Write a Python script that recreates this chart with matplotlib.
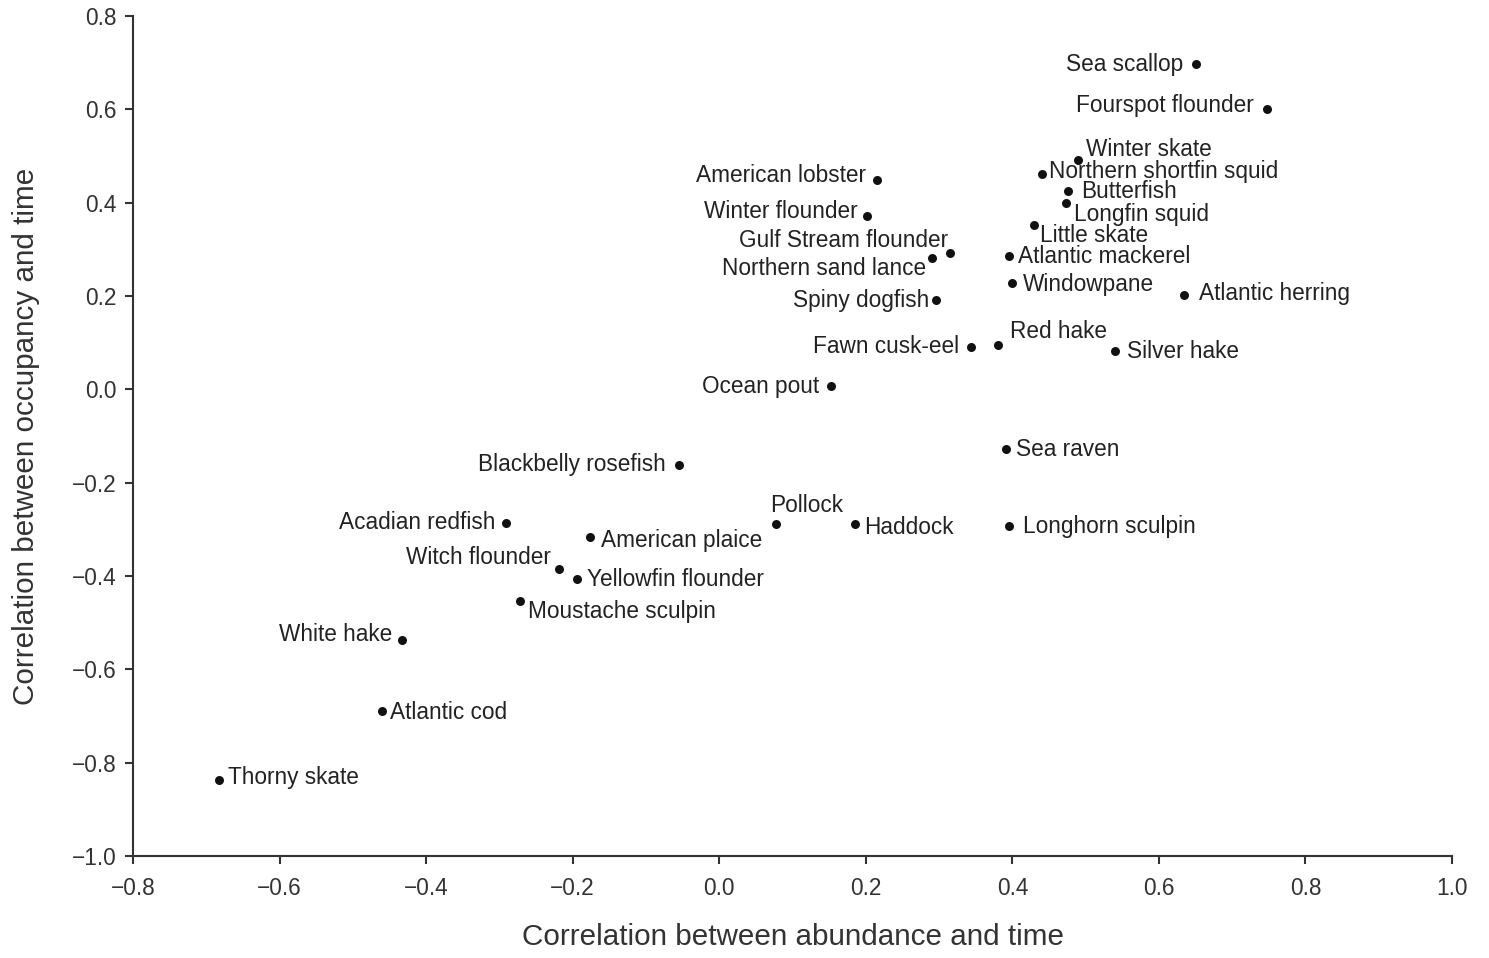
import matplotlib
matplotlib.use("Agg")
import matplotlib.pyplot as plt

species = ["Sea scallop", "Fourspot flounder", "Winter skate", "Northern shortfin squid",
           "Butterfish", "Longfin squid", "Little skate", "Atlantic mackerel", "Windowpane",
           "Atlantic herring", "Red hake", "Silver hake", "Fawn cusk-eel", "American lobster",
           "Winter flounder", "Gulf Stream flounder", "Northern sand lance", "Spiny dogfish",
           "Ocean pout", "Sea raven", "Blackbelly rosefish", "Pollock", "Haddock",
           "Longhorn sculpin", "Acadian redfish", "American plaice", "Witch flounder",
           "Yellowfin flounder", "Moustache sculpin", "White hake", "Atlantic cod", "Thorny skate"]
abund_corr = [0.650, 0.747, 0.489, 0.441, 0.476, 0.473, 0.430, 0.395, 0.400, 0.634,
              0.381, 0.540, 0.343, 0.215, 0.201, 0.315, 0.290, 0.296, 0.152, 0.392,
              -0.055, 0.077, 0.185, 0.395, -0.291, -0.177, -0.219, -0.194, -0.272,
              -0.433, -0.460, -0.682]
occup_corr = [0.697, 0.601, 0.491, 0.461, 0.425, 0.399, 0.352, 0.286, 0.228, 0.202,
              0.095, 0.082, 0.091, 0.448, 0.371, 0.292, 0.281, 0.191, 0.007, -0.128,
              -0.162, -0.289, -0.289, -0.293, -0.287, -0.316, -0.385, -0.406, -0.454,
              -0.537, -0.690, -0.837]
x_ticks = [-0.8, -0.6, -0.4, -0.2, 0.0, 0.2, 0.4, 0.6, 0.8, 1.0]
y_ticks = [-1.0, -0.8, -0.6, -0.4, -0.2, 0.0, 0.2, 0.4, 0.6, 0.8]

# label placement: (dx px, dy px up, horizontal alignment)
placement = {
    "Sea scallop": (-12, 0, "right"), "Fourspot flounder": (-13, 3, "right"),
    "Winter skate": (8, 11, "left"), "Northern shortfin squid": (7, 3, "left"),
    "Butterfish": (13, -1, "left"), "Longfin squid": (8, -11, "left"),
    "Little skate": (6, -10, "left"), "Atlantic mackerel": (9, -1, "left"),
    "Windowpane": (11, -2, "left"), "Atlantic herring": (15, 2, "left"),
    "Red hake": (12, 13, "left"), "Silver hake": (12, 0, "left"),
    "Fawn cusk-eel": (-11, 0, "right"), "American lobster": (-11, 5, "right"),
    "Winter flounder": (-9, 5, "right"), "Gulf Stream flounder": (-2, 13, "right"),
    "Northern sand lance": (-6, -10, "right"), "Spiny dogfish": (-7, 0, "right"),
    "Ocean pout": (-11, 0, "right"), "Sea raven": (10, 0, "left"),
    "Blackbelly rosefish": (-13, 0, "right"), "Pollock": (-6, 19, "left"),
    "Haddock": (9, -3, "left"), "Longhorn sculpin": (14, 0, "left"),
    "Acadian redfish": (-11, 1, "right"), "American plaice": (11, -4, "left"),
    "Witch flounder": (-8, 11, "right"), "Yellowfin flounder": (10, -1, "left"),
    "Moustache sculpin": (8, -10, "left"), "White hake": (-10, 5, "right"),
    "Atlantic cod": (8, -1, "left"), "Thorny skate": (9, 2, "left"),
}

DPI = 100
plt.rcParams['font.family'] = ['Liberation Sans', 'DejaVu Sans']
fig = plt.figure(figsize=(14.89, 9.58), dpi=DPI)
ax = fig.add_axes([133/1489, 1 - 856/958, (1452-133)/1489, (856-16)/958])

ax.scatter(abund_corr, occup_corr, s=42, color="#111111", zorder=3, linewidths=0)
for name, xv, yv in zip(species, abund_corr, occup_corr):
    dx, dy, ha = placement[name]
    ax.annotate(name, (xv, yv), xytext=(dx*72/DPI, dy*72/DPI), textcoords="offset points",
                ha=ha, va="center", fontsize=16.3, color="#222222")

ax.set_xlim(-0.8, 1.0)
ax.set_ylim(-1.0, 0.8)
ax.set_xticks(x_ticks)
ax.set_yticks(y_ticks)
ax.set_xticklabels([f"{v:.1f}".replace("-", "\u2212") for v in x_ticks])
ax.set_yticklabels([f"{v:.1f}".replace("-", "\u2212") for v in y_ticks])
for s in ["top", "right"]:
    ax.spines[s].set_visible(False)
for s in ["left", "bottom"]:
    ax.spines[s].set_linewidth(1.5)
    ax.spines[s].set_color("#333333")
ax.tick_params(axis="both", direction="out", length=6, width=1.5, color="#333333",
               labelsize=16.3, labelcolor="#333333")
ax.tick_params(axis="x", pad=9)
ax.tick_params(axis="y", pad=6)
ax.set_xlabel("Correlation between abundance and time", fontsize=21.3, color="#333333", labelpad=17)
ax.set_ylabel("Correlation between occupancy and time", fontsize=21.3, color="#333333", labelpad=23)

fig.savefig("out.png", dpi=DPI)
